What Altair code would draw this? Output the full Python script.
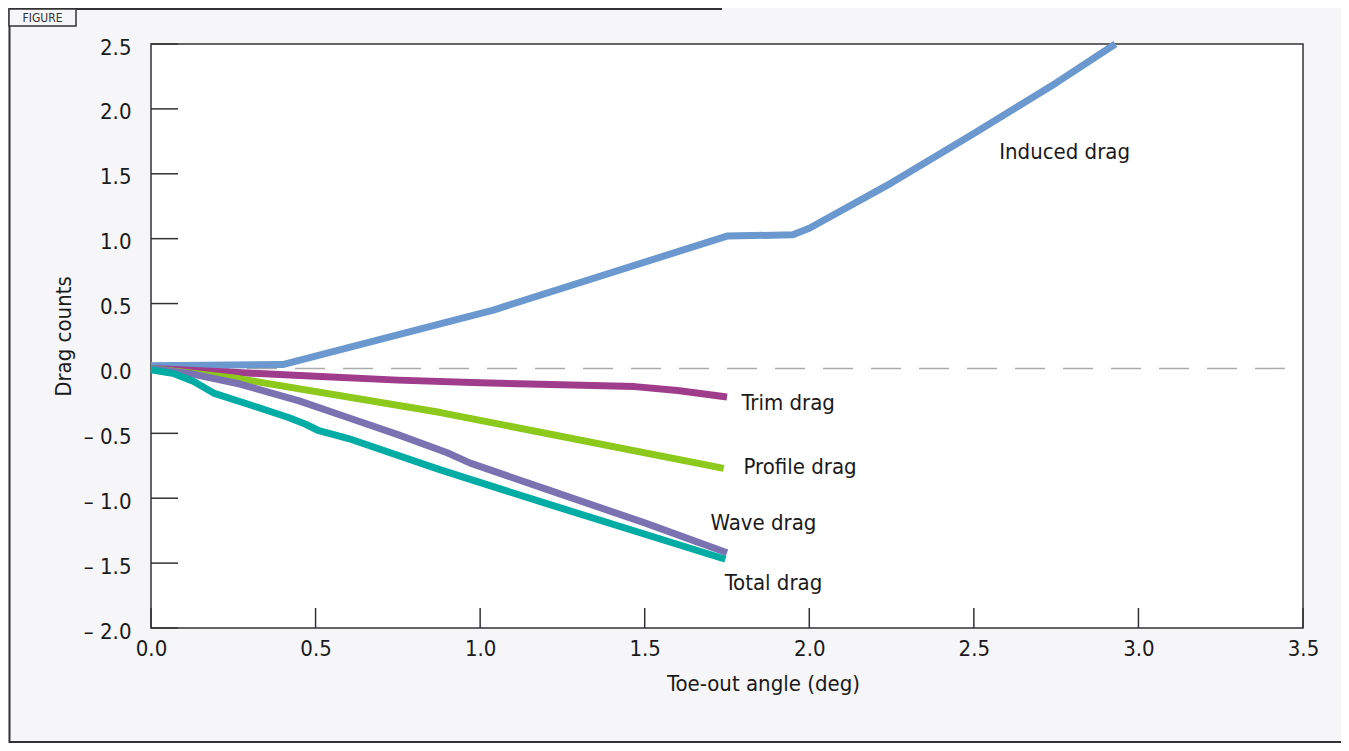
import altair as alt
import pandas as pd

# ---- data ----
induced_x = [0.0, 0.40, 1.04, 1.75, 1.95, 2.00, 2.25, 2.50, 2.75, 2.93]
induced_y = [0.02, 0.03, 0.45, 1.02, 1.03, 1.08, 1.43, 1.81, 2.20, 2.50]

trim_x = [0.0, 0.25, 0.50, 0.75, 1.00, 1.47, 1.60, 1.75]
trim_y = [0.0, -0.03, -0.06, -0.09, -0.11, -0.14, -0.17, -0.22]

profile_x = [0.0, 0.27, 0.88, 1.74]
profile_y = [0.0, -0.08, -0.34, -0.77]

wave_x = [0.0, 0.12, 0.27, 0.45, 0.60, 0.75, 0.90, 0.97, 1.20, 1.50, 1.75]
wave_y = [0.0, -0.04, -0.12, -0.25, -0.38, -0.51, -0.65, -0.73, -0.93, -1.19, -1.42]

total_x = [0.0, 0.07, 0.13, 0.19, 0.30, 0.42, 0.47, 0.51, 0.60, 0.877, 1.20, 1.745]
total_y = [-0.01, -0.04, -0.10, -0.19, -0.28, -0.38, -0.43, -0.48, -0.54, -0.78, -1.04, -1.47]

series_names = ["Total drag", "Wave drag", "Profile drag", "Trim drag", "Induced drag"]
series_colors = ["#00aca4", "#7b72b2", "#8dc81c", "#a03c8c", "#6a98cf"]

label_text = ["Induced drag", "Trim drag", "Profile drag", "Wave drag", "Total drag"]
label_x = [2.577, 1.794, 1.80, 1.70, 1.743]
label_y = [1.667, -0.27, -0.76, -1.19, -1.65]

x_ticks = [0.0, 0.5, 1.0, 1.5, 2.0, 2.5, 3.0, 3.5]
y_ticks = [-2.0, -1.5, -1.0, -0.5, 0.0, 0.5, 1.0, 1.5, 2.0, 2.5]

FONT = "DejaVu Sans Condensed, Liberation Sans Narrow, sans-serif"
FS = 22

rows = []
for name, xs, ys in [
    ("Induced drag", induced_x, induced_y),
    ("Trim drag", trim_x, trim_y),
    ("Profile drag", profile_x, profile_y),
    ("Wave drag", wave_x, wave_y),
    ("Total drag", total_x, total_y),
]:
    for i, (a, b) in enumerate(zip(xs, ys)):
        rows.append({"series": name, "x": a, "y": b, "i": i})
lines_df = pd.DataFrame(rows)
labels_df = pd.DataFrame({"text": label_text, "x": label_x, "y": label_y})
xt_df = pd.DataFrame({"v": x_ticks})
yt_df = pd.DataFrame({"v": y_ticks})
zero_df = pd.DataFrame({"x": [0.0], "x2": [3.5], "y": [0.0]})
dummy = pd.DataFrame({"d": [0]})

W, H = 1152, 584
xscale = alt.Scale(domain=[0, 3.5], nice=False, zero=False)
yscale = alt.Scale(domain=[-2.0, 2.5], nice=False, zero=False)

label_expr = "datum.value < 0 ? '\u2013 ' + format(abs(datum.value), '.1f') : format(datum.value, '.1f')"

xaxis = alt.Axis(values=x_ticks, format=".1f", title="Toe-out angle (deg)", ticks=False, tickSize=0,
                 domain=False, grid=False, labelFlush=False, labelOverlap=False, labelPadding=10,
                 labelFontSize=FS, titleFontSize=FS, labelFont=FONT, titleFont=FONT,
                 labelColor="#1a1a1a", titleColor="#1a1a1a", titleFontWeight="normal",
                 titleX=612, titleY=45, titleBaseline="top", titleAnchor="middle", titleAlign="center")
yaxis = alt.Axis(values=y_ticks, labelExpr=label_expr, title="Drag counts", ticks=False, tickSize=0,
                 domain=False, grid=False, labelFlush=False, labelOverlap=False, labelPadding=20,
                 labelOffset=3, labelFontSize=FS, titleFontSize=FS, labelFont=FONT, titleFont=FONT,
                 labelColor="#1a1a1a", titleColor="#1a1a1a", titleFontWeight="normal", titlePadding=8)

base_axes = alt.Chart(yt_df).mark_rule(strokeWidth=0, opacity=0).encode(
    x=alt.value(0),
    y=alt.Y("v:Q", scale=yscale, axis=yaxis),
)
base_x = alt.Chart(xt_df).mark_rule(strokeWidth=0, opacity=0).encode(
    x=alt.X("v:Q", scale=xscale, axis=xaxis),
    y=alt.value(0),
)

ytick_marks = alt.Chart(yt_df).mark_rule(color="#333333", strokeWidth=1.5).encode(
    x=alt.value(0), x2=alt.value(27), y=alt.Y("v:Q", scale=yscale)
)
xtick_marks = alt.Chart(xt_df).mark_rule(color="#333333", strokeWidth=1.5).encode(
    x=alt.X("v:Q", scale=xscale), y=alt.value(H), y2=alt.value(H - 20)
)

zero_line = alt.Chart(zero_df).mark_rule(color="#ababab", strokeWidth=1.5, strokeDash=[30, 18]).encode(
    x=alt.X("x:Q", scale=xscale), x2="x2:Q", y=alt.Y("y:Q", scale=yscale)
)

lines = alt.Chart(lines_df).mark_line(strokeWidth=7, strokeCap="butt", strokeJoin="round").encode(
    x=alt.X("x:Q", scale=xscale),
    y=alt.Y("y:Q", scale=yscale),
    color=alt.Color("series:N", scale=alt.Scale(domain=series_names, range=series_colors), legend=None),
    order="i:Q",
)

labels = alt.Chart(labels_df).mark_text(align="left", baseline="middle", fontSize=FS, font=FONT,
                                        color="#1a1a1a").encode(
    x=alt.X("x:Q", scale=xscale), y=alt.Y("y:Q", scale=yscale), text="text:N"
)

# figure frame decorations
frame_left = alt.Chart(dummy).mark_rule(color="#333333", strokeWidth=2).encode(
    x=alt.value(-141.5), y=alt.value(-36), y2=alt.value(699)
)
frame_bottom = alt.Chart(dummy).mark_rule(color="#333333", strokeWidth=2).encode(
    x=alt.value(-142), x2=alt.value(1200), y=alt.value(698)
)
frame_top = alt.Chart(dummy).mark_rule(color="#333333", strokeWidth=2).encode(
    x=alt.value(-142), x2=alt.value(571), y=alt.value(-35)
)
fig_box = alt.Chart(dummy).mark_rect(fill="#f6f5f8", stroke="#333333", strokeWidth=1.5).encode(
    x=alt.value(-142), x2=alt.value(-75), y=alt.value(-35), y2=alt.value(-18)
)
fig_text = alt.Chart(dummy).mark_text(fontSize=12, font=FONT, color="#333333", align="center",
                                      baseline="middle").encode(
    x=alt.value(-108.5), y=alt.value(-26), text=alt.value("FIGURE")
)

chart = alt.layer(
    base_axes, base_x, zero_line, ytick_marks, xtick_marks, lines, labels,
    frame_left, frame_bottom, frame_top, fig_box, fig_text,
).properties(
    width=W, height=H,
    autosize=alt.AutoSizeParams(type="none"),
    padding={"left": 143, "top": 36, "right": 38, "bottom": 115},
    background="#f6f5f8",
).configure_view(fill="white", stroke="#333333", strokeWidth=1.5)

chart.save("out.html", embed_options={"renderer": "svg", "actions": False})
